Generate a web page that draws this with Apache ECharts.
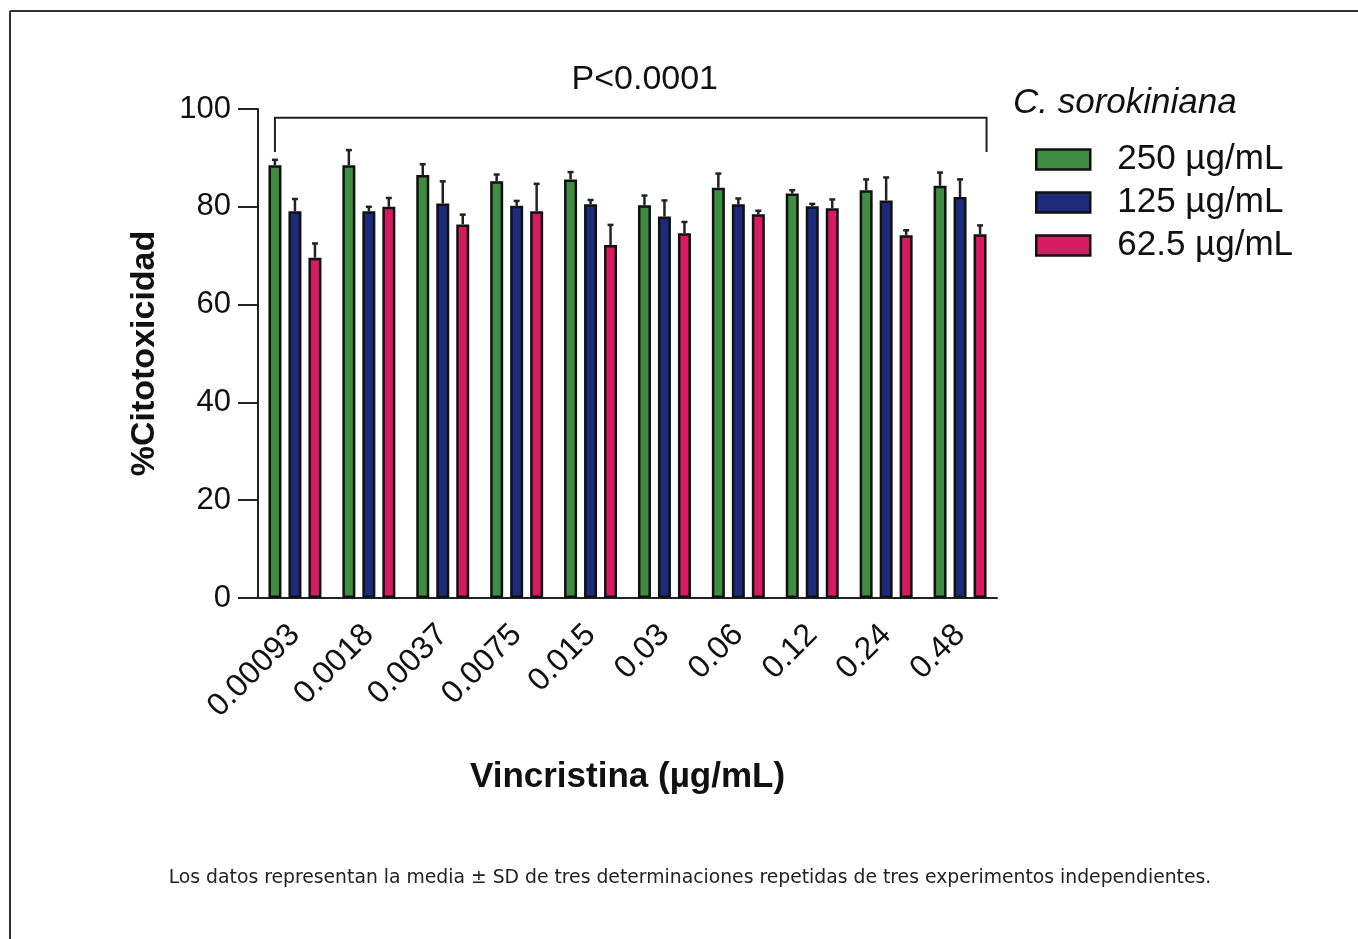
<!DOCTYPE html>
<html>
<head>
<meta charset="utf-8">
<script src="https://cdn.jsdelivr.net/npm/echarts@6/dist/echarts.min.js"></script>
<style>
html,body{margin:0;padding:0;background:#fff;}
#c{width:1358px;height:939px;}
</style>
</head>
<body>
<div id="c"></div>
<script>
const categories = ['0.00093','0.0018','0.0037','0.0075','0.015','0.03','0.06','0.12','0.24','0.48'];
const seriesNames = ['250 µg/mL','125 µg/mL','62.5 µg/mL'];
const mean250 = [88.5, 88.5, 86.5, 85.2, 85.6, 80.3, 83.9, 82.7, 83.4, 84.3];
const sd250   = [1.1, 3.1, 2.2, 1.4, 1.5, 2.0, 2.9, 0.7, 2.2, 2.7];
const mean125 = [79.1, 79.1, 80.7, 80.2, 80.5, 78.0, 80.5, 80.1, 81.3, 82.0];
const sd125   = [2.5, 0.9, 4.5, 1.0, 0.9, 3.3, 1.2, 0.5, 4.7, 3.6];
const mean62  = [69.6, 80.0, 76.4, 79.1, 72.2, 74.6, 78.5, 79.7, 74.2, 74.4];
const sd62    = [2.9, 1.8, 2.0, 5.6, 4.1, 2.3, 0.7, 1.8, 1.0, 1.8];
const yTicks = [0, 20, 40, 60, 80, 100];
const pLabel = 'P<0.0001';
const bracketTop = 98.2;
const bracketEnd = 91.2;

const colors = ['#3e8d42', '#1e2b7c', '#d81a60'];
const means = [mean250, mean125, mean62];
const sds = [sd250, sd125, sd62];
const BAR_W = 13, BAR_GAP = 7;
const offsets = [-(BAR_W + BAR_GAP), 0, (BAR_W + BAR_GAP)];
const FONT = 'Liberation Sans, Arial, sans-serif';

const chart = echarts.init(document.getElementById('c'));

const barSeries = seriesNames.map((n, i) => ({
  name: n,
  type: 'bar',
  data: means[i],
  barWidth: BAR_W,
  barGap: (BAR_GAP / BAR_W * 100).toFixed(1) + '%',
  itemStyle: { color: colors[i], borderColor: '#111', borderWidth: 2.5 },
  z: 2
}));

const errSeries = seriesNames.map((n, i) => ({
  type: 'custom',
  name: n + ' sd',
  data: means[i].map((m, k) => [k, m, m + sds[i][k]]),
  z: 3,
  silent: true,
  renderItem: function (params, api) {
    const c = api.coord([api.value(0), api.value(1)]);
    const t = api.coord([api.value(0), api.value(2)]);
    const x = c[0] + offsets[i];
    return {
      type: 'group',
      children: [
        { type: 'line', shape: { x1: x, y1: c[1], x2: x, y2: t[1] }, style: { stroke: '#222', lineWidth: 2.5 } },
        { type: 'line', shape: { x1: x - 3, y1: t[1], x2: x + 3, y2: t[1] }, style: { stroke: '#222', lineWidth: 2.5 } }
      ]
    };
  }
}));

chart.setOption({
  animation: false,
  backgroundColor: '#fff',
  grid: { left: 258, right: 361, top: 109, bottom: 341, containLabel: false },
  legend: {
    data: seriesNames,
    orient: 'vertical',
    left: 1030,
    top: 137,
    icon: 'rect',
    itemWidth: 54,
    itemHeight: 20,
    itemGap: 8,
    itemStyle: { borderWidth: 2.5, borderColor: '#111' },
    textStyle: { fontFamily: FONT, fontSize: 35, color: '#111', padding: [0, 0, 0, 22] }
  },
  xAxis: {
    type: 'category',
    data: categories,
    axisLine: { lineStyle: { color: '#222', width: 2 } },
    axisTick: { alignWithLabel: true, length: 20, lineStyle: { color: '#222', width: 2 } },
    axisLabel: { rotate: 45, fontFamily: FONT, fontSize: 32, color: '#111', margin: 32, interval: 0 },
    name: 'Vincristina (µg/mL)',
    nameLocation: 'middle',
    nameGap: 162,
    nameTextStyle: { fontFamily: FONT, fontSize: 35, fontWeight: 'bold', color: '#111' }
  },
  yAxis: {
    type: 'value',
    min: 0,
    max: 100,
    interval: 20,
    axisLine: { show: true, lineStyle: { color: '#222', width: 2 } },
    axisTick: { show: true, length: 20, lineStyle: { color: '#222', width: 2 } },
    splitLine: { show: false },
    axisLabel: {
      fontFamily: FONT, fontSize: 31, color: '#111', margin: 27,
      formatter: v => yTicks.includes(v) ? String(v) : ''
    },
    name: '%Citotoxicidad',
    nameLocation: 'middle',
    nameGap: 96,
    nameTextStyle: { fontFamily: FONT, fontSize: 34, fontWeight: 'bold', color: '#111' }
  },
  series: barSeries.concat(errSeries)
});

// annotations computed from the axis scales
const cx0 = chart.convertToPixel({ xAxisIndex: 0 }, categories[0]) + offsets[0];
const cx1 = chart.convertToPixel({ xAxisIndex: 0 }, categories[categories.length - 1]) + offsets[2] + BAR_W / 2;
const yTop = chart.convertToPixel({ yAxisIndex: 0 }, bracketTop);
const yEnd = chart.convertToPixel({ yAxisIndex: 0 }, bracketEnd);

chart.setOption({
  graphic: [
    { type: 'line', shape: { x1: 10, y1: 11, x2: 1358, y2: 11 }, style: { stroke: '#333', lineWidth: 2 } },
    { type: 'line', shape: { x1: 10, y1: 11, x2: 10, y2: 939 }, style: { stroke: '#333', lineWidth: 2 } },
    { type: 'polyline', shape: { points: [[cx0, yEnd], [cx0, yTop], [cx1, yTop], [cx1, yEnd]] }, style: { stroke: '#222', lineWidth: 2, fill: null } },
    { type: 'text', x: (cx0 + cx1) / 2 + 14, y: yTop - 38, style: { text: pLabel, fontFamily: FONT, fontSize: 34, fill: '#111', align: 'center', verticalAlign: 'middle' } },
    { type: 'text', x: 1013, y: 103, style: { text: 'C. sorokiniana', fontFamily: FONT, fontSize: 35, fontStyle: 'italic', fill: '#111', align: 'left', verticalAlign: 'middle' } },
    { type: 'text', x: 690, y: 878, style: { text: 'Los datos representan la media ± SD de tres determinaciones repetidas de tres experimentos independientes.', fontFamily: 'DejaVu Sans, Verdana, sans-serif', fontSize: 18.8, fill: '#222', align: 'center', verticalAlign: 'middle' } }
  ]
});
</script>
</body>
</html>
